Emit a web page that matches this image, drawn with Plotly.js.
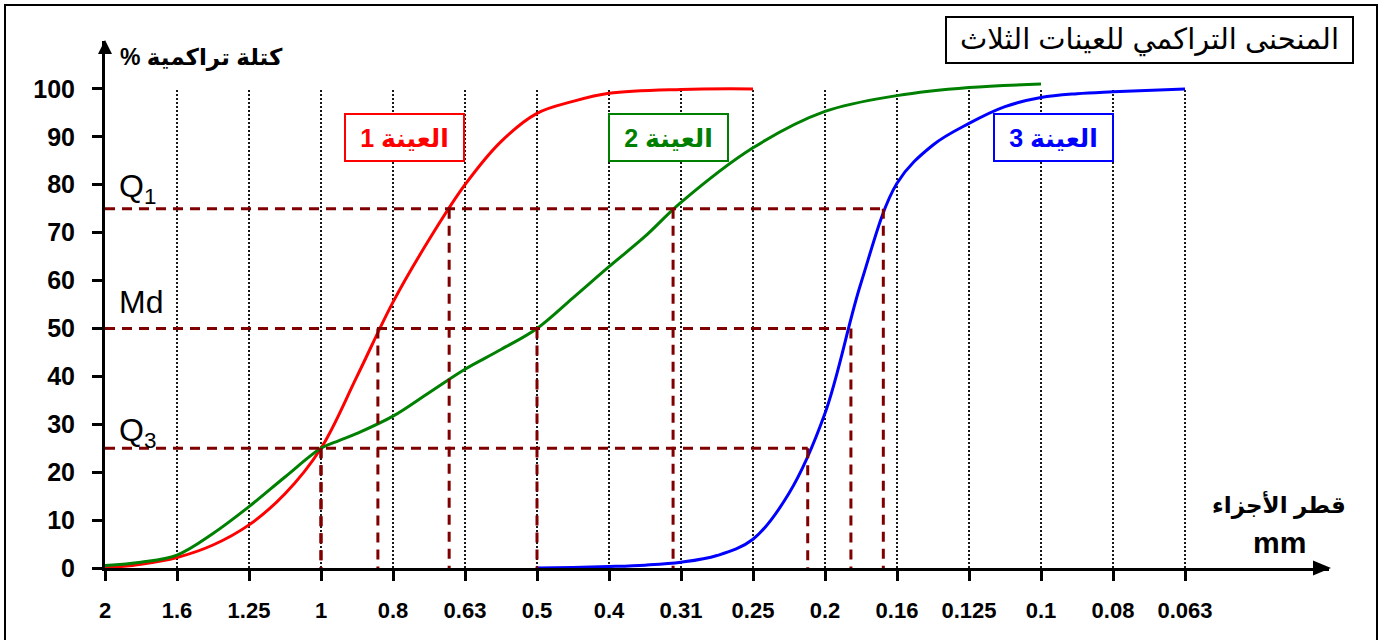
<!DOCTYPE html>
<html>
<head>
<meta charset="utf-8">
<script src="https://cdn.plot.ly/plotly-3.0.1.min.js"></script>
<style>html,body{margin:0;padding:0;background:#fff;}#chart{width:1386px;height:640px;}</style>
</head>
<body>
<div id="chart"></div>
<script>
// Sieve sizes (mm), equally spaced along the x axis (index positions)
const sieveLabels = ['2','1.6','1.25','1','0.8','0.63','0.5','0.4','0.31','0.25','0.2','0.16','0.125','0.1','0.08','0.063'];

// Sample 1 (red) : position on sieve index scale, cumulative %
const s1Pos = [0, 0.5, 1, 1.5, 2, 2.5, 3, 3.5, 4, 4.5, 5, 5.5, 6, 6.5, 7, 8, 9];
const s1Pct = [0, 0.8, 2.2, 4.8, 9.0, 15.5, 25, 40, 55.5, 68.5, 80, 89, 94.9, 97.4, 99.1, 99.9, 100];

// Sample 2 (green)
const s2Pos = [0, 0.5, 1, 1.5, 2, 2.5, 3, 3.25, 3.5, 4, 4.5, 5, 5.5, 6, 6.5, 7, 7.5, 8, 9, 10, 11, 12, 13];
const s2Pct = [0.5, 1.2, 2.7, 7.2, 12.8, 19.0, 25, 26.6, 28.1, 31.7, 36.6, 41.5, 45.6, 50, 56.4, 62.9, 69.2, 76.3, 87.7, 95.3, 98.6, 100.3, 101];

// Sample 3 (blue)
const s3Pos = [6, 6.5, 7, 7.5, 8, 8.5, 9, 9.5, 10, 10.5, 11, 11.5, 12, 12.5, 13, 13.5, 14, 15];
const s3Pct = [0, 0.1, 0.3, 0.6, 1.2, 2.6, 6.0, 15.6, 32.3, 59.5, 80.3, 88.3, 92.8, 96.3, 98.2, 99.0, 99.4, 100];

// Quartile / median levels and their positions for samples 1,2,3
const qLevels = [75, 50, 25];
const q1Pos = [4.78, 7.89, 10.81];
const mdPos = [3.79, 6, 10.36];
const q3Pos = [3, 3, 9.76];
const qNames = ['Q<sub>1</sub>', 'Md', 'Q<sub>3</sub>'];

const sampleNames = ['\u202Bالعينة 1\u202C', '\u202Bالعينة 2\u202C', '\u202Bالعينة 3\u202C'];
const sampleColors = ['#ff0000', '#008000', '#0000ff'];

const titleText = 'المنحنى التراكمي للعينات الثلاث';
const yTitle = '\u202Bكتلة تراكمية %\u202C';
const xTitle1 = 'قطر الأجزاء';
const xTitle2 = 'mm';

const tickIdx = sieveLabels.map((_, i) => i);
const yTicks = [0,10,20,30,40,50,60,70,80,90,100];

const traces = [];

// dotted vertical grid lines (0..100)
const gx = [], gy = [];
tickIdx.slice(1).forEach(i => { gx.push(i, i, null); gy.push(0, 100, null); });
traces.push({x: gx, y: gy, mode: 'lines', line: {color: '#000', width: 1.8, dash: '2px,2px'}, hoverinfo: 'skip'});

// curves
[[s1Pos, s1Pct], [s2Pos, s2Pct], [s3Pos, s3Pct]].forEach((s, k) => {
  traces.push({x: s[0], y: s[1], mode: 'lines', line: {color: sampleColors[k], width: 3, shape: 'spline', smoothing: 1}});
});

// dashed quartile lines
const dx = [], dy = [];
[q1Pos, mdPos, q3Pos].forEach((arr, j) => {
  const lvl = qLevels[j];
  dx.push(0, Math.max(...arr), null); dy.push(lvl, lvl, null);
  arr.forEach(p => { dx.push(p, p, null); dy.push(lvl, 0, null); });
});
traces.push({x: dx, y: dy, mode: 'lines', line: {color: '#800000', width: 3, dash: '10px,7px'}, hoverinfo: 'skip'});

// pixel helpers -> paper coords (plot area: x 105..1329, y 41..568)
const L = 105, R = 57, T = 41, B = 72, W = 1386, H = 640;
const pw = W - L - R, ph = H - T - B;
const px = v => (v - L) / pw;
const py = v => (H - B - v) / ph;

const annotations = [];
const arialB = {family: 'Arial, Liberation Sans, DejaVu Sans', size: 23, color: '#000', weight: 700};
const ann = o => Object.assign({xref: 'paper', yref: 'paper', xanchor: 'center', yanchor: 'middle', showarrow: false}, o);
annotations.push(ann({x: px(201), y: py(57), text: yTitle, font: arialB}));
annotations.push(ann({x: px(1279), y: py(504), text: xTitle1, font: arialB}));
annotations.push(ann({x: px(1279), y: py(542), text: xTitle2, font: Object.assign({}, arialB, {size: 30})}));
annotations.push(ann({x: px(1149.5), y: py(40), text: titleText,
  font: {family: 'Arial, Liberation Sans, DejaVu Sans', size: 29, color: '#000'},
  bordercolor: '#000', borderwidth: 2, borderpad: 0, width: 405, height: 44, bgcolor: '#fff'}));

const qY = [188, 302, 432];
qNames.forEach((t, j) => {
  annotations.push(ann({x: px(117), y: py(qY[j]), xanchor: 'left', text: t,
    font: {family: 'Arial, Liberation Sans', size: 32, color: '#000'}}));
});

const boxCx = [404.5, 668.5, 1053];
sampleNames.forEach((t, k) => {
  annotations.push(ann({x: px(boxCx[k]), y: py(137), text: t,
    font: {family: 'Arial, Liberation Sans, DejaVu Sans', size: 25, color: sampleColors[k], weight: 700},
    bordercolor: sampleColors[k], borderwidth: 2, borderpad: 0, width: 117, height: 45, bgcolor: '#fff'}));
});

const shapes = [
  // outer frame
  {type: 'rect', xref: 'paper', yref: 'paper', x0: px(5), x1: px(1377), y0: py(650), y1: py(5), line: {color: '#000', width: 2}},
  // x-axis arrow head
  {type: 'path', xref: 'paper', yref: 'paper', path: `M ${px(1331)} ${py(568)} L ${px(1313)} ${py(560.5)} L ${px(1313)} ${py(575.5)} Z`, fillcolor: '#000', line: {width: 0}},
  // y-axis arrow head
  {type: 'path', xref: 'paper', yref: 'paper', path: `M ${px(105)} ${py(40)} L ${px(98)} ${py(54)} L ${px(112)} ${py(54)} Z`, fillcolor: '#000', line: {width: 0}}
];

const layout = {
  width: W, height: H,
  margin: {l: L, r: R, t: T, b: B},
  paper_bgcolor: '#fff', plot_bgcolor: '#fff',
  showlegend: false,
  xaxis: {range: [0, 17], tickvals: tickIdx, ticktext: sieveLabels, showgrid: false, zeroline: false,
    showline: true, linecolor: '#000', linewidth: 3, ticks: 'outside', ticklen: 10, tickwidth: 3, tickcolor: '#000',
    ticklabelstandoff: 11, tickfont: {family: 'Arial, Liberation Sans', size: 22, color: '#000', weight: 700}},
  yaxis: {range: [0, 110], tickvals: yTicks, showgrid: false, zeroline: false,
    showline: true, linecolor: '#000', linewidth: 3, ticks: 'outside', ticklen: 10, tickwidth: 3, tickcolor: '#000',
    ticklabelstandoff: 12, tickfont: {family: 'Arial, Liberation Sans', size: 25, color: '#000', weight: 700}},
  annotations: annotations,
  shapes: shapes
};

Plotly.newPlot('chart', traces, layout, {displayModeBar: false, staticPlot: true});
</script>
</body>
</html>
